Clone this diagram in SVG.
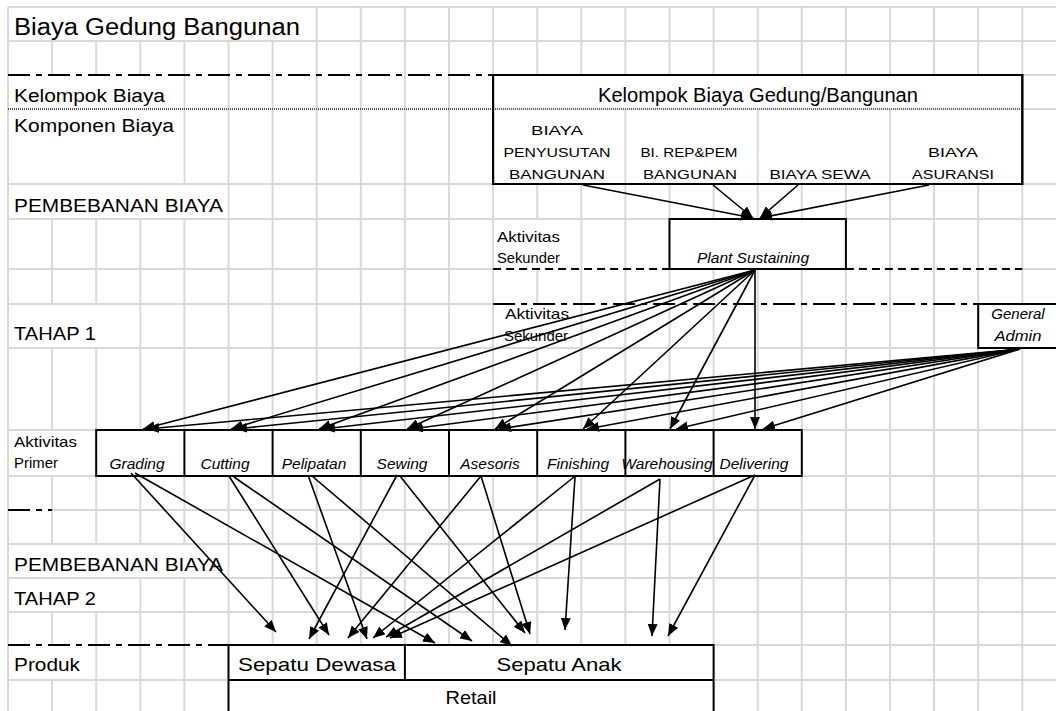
<svg xmlns="http://www.w3.org/2000/svg" width="1056" height="711" viewBox="0 0 1056 711">
  <defs>
    <style>
      .grid { stroke: #d9d9d9; stroke-width: 2; fill: none; }
      .mask { fill: #fff; stroke: none; }
      .box { fill: #fff; stroke: #000; stroke-width: 2; }
      .edge { stroke: #000; stroke-width: 2; fill: none; }
      .dashdot { stroke: #000; stroke-width: 2; stroke-dasharray: 22 6 6 6; fill: none; }
      .dashed { stroke: #000; stroke-width: 2; stroke-dasharray: 8 5; fill: none; }
      .dotted { stroke: #555; stroke-width: 2; stroke-dasharray: 1 1; fill: none; }
      .conn { stroke: #000; stroke-width: 1.6; fill: none; marker-end: url(#ah); }
      text { font-family: "Liberation Sans", Arial, sans-serif; fill: #000; }
      .lbl { font-size: 18px; }
      .small { font-size: 15px; }
      .comp { font-size: 13.5px; text-anchor: middle; }
      .act { font-size: 15.5px; font-style: italic; text-anchor: middle; }
      .mid { text-anchor: middle; }
    </style>
    <marker id="ah" viewBox="0 0 12 10" refX="12" refY="5" markerWidth="12" markerHeight="10" markerUnits="userSpaceOnUse" orient="auto">
      <path d="M0,0 L12,5 L0,10 z" fill="#000"/>
    </marker>
  </defs>

  <rect width="1056" height="711" fill="#fff"/>

  <!-- spreadsheet grid -->
  <g id="grid">
    <path class="grid" d="M8,7 H1056 M8,41 H1056 M1022.3,75 H1056 M1022.3,109 H1056
      M8,184 H493.1 M1022.3,184 H1056 M8,219 H1056 M8,269 H493.1 M1022.3,269 H1056
      M8,304 H493.1 M8,348 H1056 M8,430 H1056 M8,476 H1056 M52.1,510 H1056
      M8,544 H1056 M8,578 H1056 M8,612 H1056 M713.6,645 H1056 M8,680 H1056"/>
    <path class="grid" d="M8,7 V711 M52.1,7 V711 M96.2,7 V711 M140.3,7 V711 M184.4,7 V711
      M228.5,7 V711 M272.6,7 V711 M316.7,7 V711 M360.8,7 V711 M404.9,7 V711
      M449,7 V711 M493.1,7 V711 M537.2,7 V711 M581.3,7 V711 M625.4,7 V711
      M669.5,7 V711 M713.6,7 V711 M757.7,7 V711 M801.8,7 V711 M845.9,7 V711
      M890,7 V711 M934.1,7 V711 M978.2,7 V711 M1022.3,7 V711"/>
    <!-- cells whose text runs over the neighbouring columns -->
    <rect class="mask" x="9" y="8" width="306.7" height="32"/>
    <rect class="mask" x="9" y="76" width="174.4" height="32"/>
    <rect class="mask" x="9" y="110" width="174.4" height="73"/>
    <rect class="mask" x="9" y="185" width="218.5" height="33"/>
    <rect class="mask" x="494.1" y="220" width="86.2" height="48"/>
    <rect class="mask" x="9" y="305" width="130.3" height="42"/>
    <rect class="mask" x="494.1" y="305" width="86.2" height="42"/>
    <rect class="mask" x="9" y="431" width="86.2" height="44"/>
    <rect class="mask" x="9" y="545" width="218.5" height="32"/>
    <rect class="mask" x="9" y="579" width="130.3" height="32"/>
    <rect class="mask" x="9" y="646" width="86.2" height="33"/>
  </g>

  <!-- section separators -->
  <g id="separators">
    <path class="dashdot" d="M8,75 H493.1"/>
    <path class="dotted" d="M8,109 H1022.3"/>
    <path class="dashed" d="M493.1,269 H669.5 M845.9,269 H1022.3"/>
    <path class="dashdot" d="M493.1,304 H978.2"/>
    <path class="dashdot" d="M8,510 H52.1"/>
    <path class="dashdot" d="M8,645 H228.5"/>
  </g>

  <!-- row captions -->
  <g id="row-labels">
    <text x="14" y="35" font-size="23" textLength="286" lengthAdjust="spacingAndGlyphs">Biaya Gedung Bangunan</text>
    <text class="lbl" x="14" y="102" textLength="151" lengthAdjust="spacingAndGlyphs">Kelompok Biaya</text>
    <text class="lbl" x="14" y="132" textLength="160" lengthAdjust="spacingAndGlyphs">Komponen Biaya</text>
    <text class="lbl" x="14" y="212" textLength="209" lengthAdjust="spacingAndGlyphs">PEMBEBANAN BIAYA</text>
    <text class="small" x="497" y="242" textLength="63" lengthAdjust="spacingAndGlyphs">Aktivitas</text>
    <text class="small" x="497" y="263" textLength="63" lengthAdjust="spacingAndGlyphs">Sekunder</text>
    <text class="lbl" x="14" y="340" textLength="82" lengthAdjust="spacingAndGlyphs">TAHAP 1</text>
    <text class="small" x="505" y="319" textLength="64" lengthAdjust="spacingAndGlyphs">Aktivitas</text>
    <text class="small" x="504" y="341" textLength="64" lengthAdjust="spacingAndGlyphs">Sekunder</text>
    <text class="small" x="14" y="447" textLength="63" lengthAdjust="spacingAndGlyphs">Aktivitas</text>
    <text class="small" x="14" y="468" textLength="44" lengthAdjust="spacingAndGlyphs">Primer</text>
    <text class="lbl" x="14" y="571" textLength="209" lengthAdjust="spacingAndGlyphs">PEMBEBANAN BIAYA</text>
    <text class="lbl" x="14" y="605" textLength="82" lengthAdjust="spacingAndGlyphs">TAHAP 2</text>
    <text class="lbl" x="14" y="671" textLength="66" lengthAdjust="spacingAndGlyphs">Produk</text>
  </g>

  <!-- cost group with its four components -->
  <g id="kelompok-biaya">
    <rect class="box" x="493.1" y="75" width="529.2" height="109"/>
    <path class="grid" d="M625.4,110 V183 M757.7,110 V183 M890,110 V183"/>
    <path class="dotted" d="M493.1,109 H1022.3"/>
    <rect x="493.1" y="75" width="529.2" height="109" fill="none" stroke="#000" stroke-width="2"/>
    <text class="mid" x="758" y="102" font-size="20" textLength="320" lengthAdjust="spacingAndGlyphs">Kelompok Biaya Gedung/Bangunan</text>
  </g>
  <g id="biaya-penyusutan">
    <text class="comp" x="557" y="135" textLength="52" lengthAdjust="spacingAndGlyphs">BIAYA</text>
    <text class="comp" x="557" y="157" textLength="107" lengthAdjust="spacingAndGlyphs">PENYUSUTAN</text>
    <text class="comp" x="557" y="179" textLength="96" lengthAdjust="spacingAndGlyphs">BANGUNAN</text>
  </g>
  <g id="biaya-reparasi">
    <text class="comp" x="689" y="157" textLength="97" lengthAdjust="spacingAndGlyphs">BI. REP&amp;PEM</text>
    <text class="comp" x="690" y="179" textLength="94" lengthAdjust="spacingAndGlyphs">BANGUNAN</text>
  </g>
  <g id="biaya-sewa">
    <text class="comp" x="820" y="179" textLength="101" lengthAdjust="spacingAndGlyphs">BIAYA SEWA</text>
  </g>
  <g id="biaya-asuransi">
    <text class="comp" x="953" y="157" textLength="50" lengthAdjust="spacingAndGlyphs">BIAYA</text>
    <text class="comp" x="953" y="179" textLength="82" lengthAdjust="spacingAndGlyphs">ASURANSI</text>
  </g>

  <!-- secondary activities -->
  <g id="plant-sustaining">
    <rect class="box" x="669.5" y="219" width="176.4" height="50"/>
    <text class="act" x="753" y="263">Plant Sustaining</text>
  </g>
  <g id="general-admin">
    <rect class="box" x="978.2" y="304" width="100" height="44"/>
    <text class="mid" x="1018" y="319" font-size="15" font-style="italic">General</text>
    <text class="mid" x="1018" y="341" font-size="15" font-style="italic" textLength="47" lengthAdjust="spacingAndGlyphs">Admin</text>
  </g>

  <!-- primary activities -->
  <g id="aktivitas-primer">
    <rect class="box" x="96.2" y="430" width="705.6" height="46"/>
    <path class="edge" d="M184.4,430 V476 M272.6,430 V476 M360.8,430 V476 M449,430 V476 M537.2,430 V476 M625.4,430 V476 M713.6,430 V476"/>
  </g>
  <g id="grading"><text class="act" x="137" y="469">Grading</text></g>
  <g id="cutting"><text class="act" x="225" y="469">Cutting</text></g>
  <g id="pelipatan"><text class="act" x="314" y="469">Pelipatan</text></g>
  <g id="sewing"><text class="act" x="402" y="469">Sewing</text></g>
  <g id="asesoris"><text class="act" x="490" y="469">Asesoris</text></g>
  <g id="finishing"><text class="act" x="578" y="469">Finishing</text></g>
  <g id="warehousing"><text class="act" x="667" y="469" font-size="14">Warehousing</text></g>
  <g id="delivering"><text class="act" x="754" y="469">Delivering</text></g>

  <!-- products -->
  <g id="produk">
    <rect class="box" x="228.5" y="645" width="485.1" height="80"/>
    <path class="edge" d="M228.5,680 H713.6 M404.9,645 V680"/>
  </g>
  <g id="sepatu-dewasa"><text class="mid" x="317" y="671" font-size="19" textLength="158" lengthAdjust="spacingAndGlyphs">Sepatu Dewasa</text></g>
  <g id="sepatu-anak"><text class="mid" x="559" y="671" font-size="19" textLength="125" lengthAdjust="spacingAndGlyphs">Sepatu Anak</text></g>
  <g id="retail"><text class="mid" x="471" y="704" font-size="19" textLength="51" lengthAdjust="spacingAndGlyphs">Retail</text></g>

  <!-- cost flows -->
  <g id="connectors">
    <!-- components to Plant Sustaining -->
    <line class="conn" x1="583" y1="185" x2="753" y2="218"/>
    <line class="conn" x1="713" y1="185" x2="753" y2="218"/>
    <line class="conn" x1="798" y1="185" x2="760" y2="218"/>
    <line class="conn" x1="929" y1="185" x2="760" y2="218"/>
    <!-- Plant Sustaining to primary activities -->
    <line class="conn" x1="755" y1="270" x2="143" y2="429"/>
    <line class="conn" x1="755" y1="270" x2="231" y2="429"/>
    <line class="conn" x1="755" y1="270" x2="319" y2="429"/>
    <line class="conn" x1="755" y1="270" x2="407" y2="429"/>
    <line class="conn" x1="755" y1="270" x2="495" y2="429"/>
    <line class="conn" x1="755" y1="270" x2="583" y2="429"/>
    <line class="conn" x1="755" y1="270" x2="670" y2="429"/>
    <line class="conn" x1="755" y1="270" x2="755" y2="429"/>
    <!-- General Admin to primary activities -->
    <line class="conn" x1="1020" y1="349" x2="147" y2="429"/>
    <line class="conn" x1="1020" y1="349" x2="235" y2="429"/>
    <line class="conn" x1="1020" y1="349" x2="323" y2="429"/>
    <line class="conn" x1="1020" y1="349" x2="411" y2="429"/>
    <line class="conn" x1="1020" y1="349" x2="499" y2="429"/>
    <line class="conn" x1="1020" y1="349" x2="587" y2="429"/>
    <line class="conn" x1="1020" y1="349" x2="676" y2="429"/>
    <line class="conn" x1="1020" y1="349" x2="763" y2="429"/>
    <!-- primary activities to products -->
    <line class="conn" x1="131" y1="473" x2="276" y2="632"/>
    <line class="conn" x1="135" y1="473" x2="435" y2="643"/>
    <line class="conn" x1="229" y1="476" x2="329" y2="635"/>
    <line class="conn" x1="234" y1="477" x2="472" y2="641"/>
    <line class="conn" x1="308" y1="475" x2="367" y2="639"/>
    <line class="conn" x1="312" y1="476" x2="512" y2="646"/>
    <line class="conn" x1="397" y1="475" x2="309" y2="639"/>
    <line class="conn" x1="400" y1="476" x2="525" y2="633"/>
    <line class="conn" x1="481" y1="476" x2="348" y2="638"/>
    <line class="conn" x1="481" y1="476" x2="530" y2="634"/>
    <line class="conn" x1="574" y1="477" x2="373" y2="638"/>
    <line class="conn" x1="575" y1="477" x2="565" y2="630"/>
    <line class="conn" x1="660" y1="479" x2="386" y2="637"/>
    <line class="conn" x1="660" y1="479" x2="652" y2="636"/>
    <line class="conn" x1="755" y1="475" x2="390" y2="638"/>
    <line class="conn" x1="755" y1="475" x2="668" y2="636"/>
  </g>
</svg>
